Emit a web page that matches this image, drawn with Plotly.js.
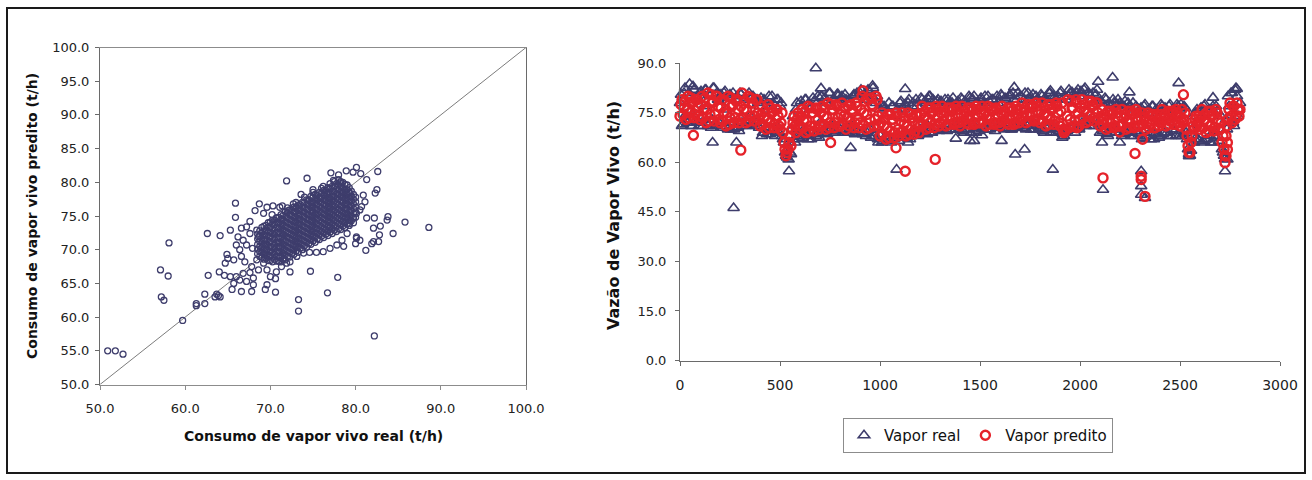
<!DOCTYPE html>
<html><head><meta charset="utf-8">
<script src="https://cdn.plot.ly/plotly-3.0.1.min.js"></script>
<style>html,body{margin:0;padding:0;background:#fff}#g{width:1312px;height:480px}</style>
</head><body><div id="g"></div><script>
// ---------- Left chart: consumo real x predito ----------
// dense core, read column by column (real value -> predicted values)
const nuvemX = [68.5,69.0,69.5,70.0,70.5,71.0,71.5,72.0,72.5,73.0,73.5,74.0,74.5,75.0,75.5,76.0,76.5,77.0,77.5,78.0,78.5,79.0,79.5,80.0];
const nuvemY = [
  [69.4,70.1,70.8,71.6,72.3],
  [68.9,69.6,70.3,71.0,71.7,72.5,73.3],
  [68.7,69.3,70.0,70.8,71.5,72.1,72.9,73.6],
  [68.4,69.1,69.8,70.5,71.2,72.0,72.6,73.4,74.1],
  [68.6,69.3,70.1,70.7,71.5,72.2,72.9,73.7,74.4],
  [68.3,69.0,69.7,70.4,71.1,71.8,72.6,73.2,74.0,74.8],
  [68.6,69.4,70.0,70.8,71.4,72.2,72.9,73.6,74.3,75.1],
  [69.0,69.7,70.4,71.1,71.9,72.5,73.3,74.0,74.7,75.5,76.2],
  [69.4,70.1,70.9,71.5,72.3,73.0,73.7,74.4,75.1,75.9],
  [69.8,70.5,71.2,71.9,72.7,73.4,74.1,74.8,75.6,76.3,77.0],
  [70.2,70.9,71.6,72.3,73.0,73.8,74.5,75.2,75.9,76.7],
  [70.6,71.3,72.0,72.7,73.4,74.1,74.9,75.6,76.3,77.0,77.8],
  [70.9,71.7,72.4,73.1,73.8,74.5,75.2,76.0,76.7,77.4],
  [71.3,72.0,72.7,73.5,74.2,74.9,75.6,76.3,77.0,77.8,78.5],
  [71.6,72.4,73.1,73.8,74.6,75.3,76.0,76.7,77.4,78.1],
  [72.0,72.7,73.4,74.1,74.8,75.5,76.2,77.0,77.7,78.4,79.1],
  [72.3,73.0,73.8,74.5,75.2,75.9,76.6,77.3,78.0,78.8],
  [72.6,73.3,74.0,74.8,75.5,76.2,76.9,77.6,78.4,79.1,79.8],
  [72.9,73.6,74.3,75.0,75.8,76.5,77.2,77.9,78.6,79.4,80.1],
  [73.1,73.9,74.6,75.3,76.0,76.7,77.5,78.2,78.9,79.6,80.4],
  [73.5,74.2,74.9,75.6,76.4,77.1,77.8,78.5,79.2,80.0],
  [73.8,74.6,75.3,76.0,76.7,77.4,78.1,78.9,79.6],
  [74.3,75.0,75.8,76.5,77.2,77.9,78.7],
  [74.8,75.6,76.3,77.1,77.8]
];
const nuvemX2 = [68.75,69.25,69.75,70.25,70.75,71.25,71.75,72.25,72.75,73.25,73.75,74.25,74.75,75.25,75.75,76.25,76.75,77.25,77.75,78.25,78.75,79.25,79.75];
const nuvemY2 = [
  [69.0,69.7,70.5,71.2,72.0,72.8],
  [68.6,69.3,70.0,70.7,71.4,72.1,72.8,73.5],
  [68.4,69.0,69.7,70.4,71.1,71.9,72.6,73.3,74.0],
  [68.2,68.9,69.6,70.3,71.0,71.7,72.4,73.1,73.8,74.4],
  [68.3,69.0,69.7,70.4,71.1,71.8,72.5,73.3,74.0,74.7],
  [68.2,68.9,69.6,70.3,71.0,71.7,72.4,73.1,73.8,74.5,75.2],
  [68.5,69.2,69.9,70.6,71.3,72.0,72.7,73.4,74.1,74.8,75.6],
  [68.9,69.6,70.3,71.0,71.7,72.4,73.1,73.8,74.5,75.2,75.9],
  [69.3,70.0,70.7,71.4,72.1,72.8,73.5,74.2,74.9,75.6,76.3],
  [69.6,70.3,71.0,71.7,72.4,73.1,73.8,74.5,75.2,75.9,76.6],
  [70.0,70.7,71.4,72.1,72.8,73.5,74.2,74.9,75.6,76.3,77.0],
  [70.4,71.1,71.8,72.5,73.2,73.9,74.6,75.3,76.0,76.7,77.4],
  [70.8,71.5,72.2,72.9,73.6,74.3,75.0,75.7,76.4,77.1,77.9],
  [71.1,71.8,72.5,73.2,73.9,74.6,75.3,76.0,76.7,77.4,78.2],
  [71.5,72.2,72.9,73.6,74.3,75.0,75.7,76.4,77.1,77.8,78.5],
  [71.8,72.5,73.2,73.9,74.6,75.3,76.0,76.7,77.4,78.1,78.8],
  [72.1,72.8,73.5,74.2,74.9,75.6,76.3,77.0,77.7,78.4,79.2],
  [72.4,73.1,73.8,74.5,75.2,75.9,76.6,77.3,78.0,78.7,79.4],
  [72.7,73.4,74.1,74.8,75.5,76.2,76.9,77.6,78.3,79.0,79.8],
  [73.0,73.7,74.4,75.1,75.8,76.5,77.2,77.9,78.6,79.3,80.1],
  [73.3,74.0,74.7,75.4,76.1,76.8,77.5,78.2,78.9,79.7],
  [73.6,74.3,75.0,75.7,76.4,77.1,77.8,78.5,79.2],
  [74.0,74.7,75.4,76.1,76.8,77.5,78.2]
];
// scattered points around the core
const dispersoReal = [
  65.9,65.9,68.7,68.2,69.6,70.3,71.1,71.4,72.1,72.7,
  73.6,74.5,69.2,70.2,70.7,67.6,67.2,66.6,66.2,66.8,
  67.6,68.4,68.6,66.0,66.4,67.2,67.9,64.9,65.0,64.7,
  65.7,66.6,67.0,67.8,68.4,69.2,69.6,68.6,67.6,66.8,
  66.0,65.3,62.7,64.0,64.6,66.4,67.2,68.0,65.7,65.5,
  66.6,67.8,68.0,69.6,69.4,70.6,70.6,70.0,70.7,71.3,
  72.3,71.9,63.7,63.9,63.5,64.1,62.3,62.3,61.3,61.3,
  62.6,64.1,65.3,59.7,58.1,57.1,58.0,57.2,57.5,50.9,
  51.8,52.7,71.9,74.3,73.3,73.3,74.7,76.7,77.9,82.2,
  88.6,85.8,84.4,83.8,83.7,82.6,80.1,77.1,78.0,78.9,
  79.7,80.6,81.3,81.2,82.7,82.8,82.9,82.1,81.9,82.1,
  81.3,82.2,82.5,82.3,80.9,81.1,80.7,80.1,80.5,79.7,
  79.3,80.0,80.1,79.0,78.4,78.6,77.8,77.0,76.2,75.4,
  74.6,73.9,73.1,72.3,71.5,78.6,79.3,76.6,75.8,75.0,
  76.2,78.2,77.4,80.5,80.1
];
const dispersoPredito = [
  76.9,74.8,76.8,75.8,76.3,76.5,76.3,76.5,75.8,76.8,
  78.2,77.4,75.4,75.2,74.7,74.2,73.4,73.2,71.9,71.4,
  72.4,72.9,71.9,70.7,70.0,70.7,70.2,69.3,68.7,68.0,
  68.5,69.0,68.2,67.5,68.5,68.0,67.0,67.0,66.6,66.5,
  66.0,66.0,66.2,66.7,66.2,65.5,65.3,65.8,65.0,64.1,
  63.8,63.8,64.8,64.8,64.1,63.7,65.7,66.0,66.7,67.5,
  66.7,68.0,63.4,63.2,63.0,63.0,63.4,62.0,62.0,61.7,
  72.4,72.1,72.9,59.5,71.0,67.0,66.1,63.0,62.5,55.0,
  55.0,54.5,80.2,80.6,62.6,60.9,66.8,63.6,65.9,57.2,
  73.3,74.1,72.4,74.9,74.4,81.6,82.2,81.4,81.1,81.7,
  81.5,81.3,80.4,69.9,71.2,72.2,73.5,71.2,70.9,73.2,
  74.7,74.7,78.9,78.4,78.1,77.1,76.4,75.4,75.9,74.7,
  73.9,70.9,71.7,72.4,71.4,70.5,70.7,70.2,69.7,69.6,
  69.6,69.5,69.0,68.2,68.5,77.9,78.4,78.4,77.6,78.9,
  79.4,79.9,80.3,71.4,71.9
];
const diagonal = [50, 100];

// ---------- Right chart: time series ----------
const amostra = [
  0,10,20,30,40,50,60,70,80,90,100,110,120,130,140,150,160,170,180,190,
  200,210,220,230,240,250,260,270,280,290,300,310,320,330,340,350,360,370,380,390,
  400,410,420,430,440,450,460,470,480,490,500,510,520,530,540,550,560,570,580,590,
  600,610,620,630,640,650,660,670,680,690,700,710,720,730,740,750,760,770,780,790,
  800,810,820,830,840,850,860,870,880,890,900,910,920,930,940,950,960,970,980,990,
  1000,1010,1020,1030,1040,1050,1060,1070,1080,1090,1100,1110,1120,1130,1140,1150,1160,1170,1180,1190,
  1200,1210,1220,1230,1240,1250,1260,1270,1280,1290,1300,1310,1320,1330,1340,1350,1360,1370,1380,1390,
  1400,1410,1420,1430,1440,1450,1460,1470,1480,1490,1500,1510,1520,1530,1540,1550,1560,1570,1580,1590,
  1600,1610,1620,1630,1640,1650,1660,1670,1680,1690,1700,1710,1720,1730,1740,1750,1760,1770,1780,1790,
  1800,1810,1820,1830,1840,1850,1860,1870,1880,1890,1900,1910,1920,1930,1940,1950,1960,1970,1980,1990,
  2000,2010,2020,2030,2040,2050,2060,2070,2080,2090,2100,2110,2120,2130,2140,2150,2160,2170,2180,2190,
  2200,2210,2220,2230,2240,2250,2260,2270,2280,2290,2300,2310,2320,2330,2340,2350,2360,2370,2380,2390,
  2400,2410,2420,2430,2440,2450,2460,2470,2480,2490,2500,2510,2520,2530,2540,2550,2560,2570,2580,2590,
  2600,2610,2620,2630,2640,2650,2660,2670,2680,2690,2700,2710,2720,2730,2740,2750,2760,2770,2780,2790,
  2800
];
const amostraB = [
  5,15,25,35,45,55,65,75,85,95,105,115,125,135,145,155,165,175,185,195,
  205,215,225,235,245,255,265,275,285,295,305,315,325,335,345,355,365,375,385,395,
  405,415,425,435,445,455,465,475,485,495,505,515,525,535,545,555,565,575,585,595,
  605,615,625,635,645,655,665,675,685,695,705,715,725,735,745,755,765,775,785,795,
  805,815,825,835,845,855,865,875,885,895,905,915,925,935,945,955,965,975,985,995,
  1005,1015,1025,1035,1045,1055,1065,1075,1085,1095,1105,1115,1125,1135,1145,1155,1165,1175,1185,1195,
  1205,1215,1225,1235,1245,1255,1265,1275,1285,1295,1305,1315,1325,1335,1345,1355,1365,1375,1385,1395,
  1405,1415,1425,1435,1445,1455,1465,1475,1485,1495,1505,1515,1525,1535,1545,1555,1565,1575,1585,1595,
  1605,1615,1625,1635,1645,1655,1665,1675,1685,1695,1705,1715,1725,1735,1745,1755,1765,1775,1785,1795,
  1805,1815,1825,1835,1845,1855,1865,1875,1885,1895,1905,1915,1925,1935,1945,1955,1965,1975,1985,1995,
  2005,2015,2025,2035,2045,2055,2065,2075,2085,2095,2105,2115,2125,2135,2145,2155,2165,2175,2185,2195,
  2205,2215,2225,2235,2245,2255,2265,2275,2285,2295,2305,2315,2325,2335,2345,2355,2365,2375,2385,2395,
  2405,2415,2425,2435,2445,2455,2465,2475,2485,2495,2505,2515,2525,2535,2545,2555,2565,2575,2585,2595,
  2605,2615,2625,2635,2645,2655,2665,2675,2685,2695,2705,2715,2725,2735,2745,2755,2765,2775,2785,2795
];
const vaporReal = [
  78,71,81,74.5,72,80,71,82,76,72.5,   81,72,77,82,71,80,73,82.5,71,79,
  80,71,81,76,70,80.5,72,70,79,70.5,   81,72,79,71,80,74,71.5,79,72,78,
  77,68,79,70,76,68.5,80,72,69,79,     77,68,66,62,64,63,70,67,76,68,
  68,77,70,79,67,76,69,78.5,68,80,     72,80,69,78,70,81,71,79,69.5,80,
  70,80,72,79,69,78,71,80.5,70,79,     81,69,79,68,82,70,80,68,78,67,
  76,66,77,68,75,66.5,77,67,74,68,     78,68,76,69,78,67,77,69,79,68,
  70,79,69,78,71,80,69,78.5,70,79,     78,70,77,71,79,70,78,72,70,78.5,
  71,79,69,78,70,79.5,72,80,69,78,     79,70,78,71,80,70,79,72,70.5,78,
  71,80,70,79,72,80.5,70,79,71,81,     80,71,79,70,81,72,79,70,80,71,
  70,80,69,79,71,81,70,79.5,69,80,     81,69,68,79,70,81,71,80,70,82,
  80,72,82,71,81,73,79,71,80.5,72,     69,78,70,79,68,77,70,78,69,79,
  78,68,77,69,78,70,76,68,77,69,       76,67,77,68,75,69,77,67,76,68,
  68,77,69,76,68,77.5,70,76,68,77,     76,68,77,69,64,62,70,66,75,67,
  76,66,77,67,75,68,76,66,77,68,       70,64,62,73,80,72,81,71,82.5,74,
  78
];
const vaporRealB = [
  80.5,71.5,82.5,72,81,71,83,72.5,80,71,          81.5,71,82,72,80.5,70.5,82.5,71.5,81,72,
  80.5,70.5,81.5,71,79.5,70,81,70.5,80,69.5,      80.5,71,79.5,72,81,71.5,80,71,79,70.5,
  79.5,69,78.5,68.5,80,69.5,78,68,79,69,          78,67,63,61.5,66,62.5,74,66,78,67,
  78.5,67.5,79,68,78,67,79.5,68.5,78,67.5,        80,69.5,79.5,68.5,81,70,79,69,80.5,69.5,
  79.5,69,80.5,70,79,69.5,80,68.5,81,69,          82,68.5,80.5,69,81.5,67.5,82.5,68,80,68.5,
  77.5,66.5,76.5,67,78,66,77,67.5,76,66.5,        78.5,68.5,77.5,67.5,79,68,78,69,77,68.5,
  79.5,69.5,78.5,68.5,80,69,79,70,78.5,69.5,      78.5,70.5,79,69.5,78,70,79.5,71,77.5,70,
  79.5,69.5,78.5,70,80,69,79,70.5,78,69.5,        79.5,70.5,80,70,78.5,71,79,69.5,80,70.5,
  80.5,70.5,79.5,71,80,70,81,70.5,79,71,          80,70.5,81,71,79.5,70,80.5,71.5,79,70.5,
  80.5,69.5,79.5,70,81,69,80,70.5,79,69.5,        81.5,68.5,80,69.5,82,70,80.5,69,81,70.5,
  81.5,71.5,82.5,72,80.5,71,81,72.5,82,71.5,      78.5,69.5,79.5,68.5,78,69,79,70,77.5,69,
  77.5,68.5,78.5,69,77,68,78,69.5,76.5,68.5,      76.5,67.5,77.5,68,76,67,77,68.5,75.5,67.5,
  77.5,68.5,76.5,69,77,68,76,69.5,77.5,68,        77.5,68.5,76.5,67,62.5,63.5,74,67,76,66.5,
  76.5,66.5,77.5,67,76,66,77,67.5,75.5,66.5,      74,63,61,70,77,81,72,82,80,76
];
const vaporPredito = [
  74,79,76.5,73,80,75,78,73.5,79,77,        73,80,76,72,81,74.5,78,72.5,80,77,
  72,79,75,71,80,73.5,77,72,78.5,76,        73,81,76,72,80,74,78,72.5,79,75,
  71,77,73.5,70,77.5,72,75,70.5,76,74,      70,75,66,62,64,68,70,74,69,75,
  70,76,72.5,69,77,71,75,69.5,76.5,73,      71,77,74,70,78,72,76,70.5,77.5,73.5,
  71,78,74,70,77,72.5,76,70.5,78,73,        72,80,75,70,79,73,77.5,71,80,74,
  68,75,71,67,74.5,69.5,73,67.5,75,70,      69,75,71.5,68,75,70,73.5,68.5,74.5,72,
  71,77,73.5,70,76.5,72,75,70.5,77,74,      72,77,74,71,76.5,73,75.5,71.5,77,74.5,
  71,77,74,72,76.5,73,75.5,71.5,77,74,      72,77,74.5,71,77,73,75.5,71.5,76.5,74,
  71,77,74,72,76.5,73,75.5,71.5,77,74.5,    73,78,75,72,77.5,74,76.5,72.5,78,75.5,
  72,78,74.5,71,77.5,73,76,71.5,78,75,      71,78,69,70,79,73,76.5,71,79,75,
  73,79,75.5,72,78.5,74,77,72.5,78,75,      71,76,73,70,75.5,72,74.5,70.5,76,73.5,
  71,76,73.5,70,75.5,72,74.5,70.5,76,73,    71,75,72.5,70,75,71.5,74,70.5,74.5,73,
  72,76,73.5,71,75.5,72.5,74.5,71.5,76,74,  71,76,73,70,65,63,68,70,74,72,
  70,76,72.5,69,75.5,71,74,69.5,76,73,      70,66,64,68,73,78,72,77,74,76,
  76
];
const vaporPreditoB = [
  77.5,74.5,78.5,76,73.5,79.5,78.5,74.5,79,74,    77.5,73.5,79.5,76,72.5,80.5,78.5,74.5,80,73,
  76.5,72.5,78.5,75,71.5,79.5,77.5,73.5,79,72,    77,73.5,78.5,75.5,72.5,79.5,78,74,79,73,
  74.5,71.5,75.5,73,70.5,76.5,75.5,71.5,76,71,    72,69,64,63,66,65,72,71,73,71,
  74,70.5,75.5,72.5,69.5,76.5,75,71,76,70,        75,71.5,76.5,73.5,70.5,77.5,76,72,77,71,
  74.5,71.5,76.5,73.5,71,77.5,75.5,72,77,70.5,    76,71.5,78.5,74.5,70.5,79.5,77,73,79,71,
  72,68.5,73.5,70.5,67.5,74.5,73,69,74,68,        72.5,69.5,73.5,71,68.5,74.5,73.5,69.5,74,69,
  74.5,71.5,75.5,73,70.5,76.5,75.5,71.5,76,71,    75,72.5,75.5,73.5,71.5,76.5,76,72,76,72,
  74.5,72.5,75.5,73.5,71.5,76.5,76,72,76,72,      75,72.5,75.5,74,71.5,76.5,76,72,76,72,
  75,72.5,75.5,73.5,71.5,76.5,76,72,76,72,        76,73.5,76.5,74.5,72.5,77.5,77,73,77,73,
  75.5,72.5,76.5,74,71.5,77.5,76.5,72.5,77,72,    75.5,70,69.5,74,70.5,78.5,76.5,72.5,78,71,
  76.5,73.5,77.5,75,72.5,78.5,77.5,73.5,78,73,    74,71.5,74.5,72.5,70.5,75.5,75,71,75,71,
  74,71.5,74.5,72.5,70.5,75.5,75,71,75,71,        73.5,71.5,73.5,72,70.5,74.5,74.5,70.5,74,71,
  74.5,72.5,74.5,73,71.5,75.5,75.5,71.5,75,72,    73,72,75,68,63,66,71,73,71,74,
  73.5,70.5,74.5,72,69.5,75.5,74.5,70.5,75,70,    72,68,62,71,76,74,77,73,78,74
];
// isolated points of each series
const realIsoladoX = [48,268,163,282,679,705,789,545,543,853,963,992,1083,1126,1140,1243,1379,1451,1470,1510,1608,1671,1676,1723,1864,2091,2163,2115,2110,2199,2247,2306,2306,2306,2325,2493,2545,2725,2737,2784,2665,1852,1960,1912,1996];
const realIsoladoY = [83.7,46.2,66,66,88.5,82.4,80.7,57.3,60.9,64.4,83.2,66,57.8,82.2,66,79,67.2,66.5,66.5,68.2,66.5,82.7,62.4,63.9,57.8,84.4,85.7,51.7,66,66,81.2,57.3,52.8,50.2,49.2,84,61.9,57.3,60.9,82.2,79.6,81.7,81.2,67.5,70];
const preditoIsoladoX = [67,304,753,915,1080,1126,1276,2115,2199,2275,2306,2306,2325,2517,2725,2730,2737,2737,2313,1984];
const preditoIsoladoY = [68.2,63.7,66,81.7,64.4,57.3,60.9,55.3,69.2,62.7,54.8,55.8,49.7,80.5,59.9,61.9,63.9,66,67,70.5];

// ---------- build ----------
const leftX = [], leftY = [];
nuvemX.forEach((x, i) => nuvemY[i].forEach(y => { leftX.push(x); leftY.push(y); }));
nuvemX2.forEach((x, i) => nuvemY2[i].forEach(y => { leftX.push(x); leftY.push(y); }));
dispersoReal.forEach((x, i) => { leftX.push(x); leftY.push(dispersoPredito[i]); });

const W = 1312, H = 480;
const fx = p => p / W, fy = p => 1 - p / H;
const navy = '#3e3d6c', red = '#e5222a';
const tickF = s => ({family: 'DejaVu Sans, Arial, sans-serif', size: s, color: '#222'});
const titleF = s => ({family: 'DejaVu Sans, Arial, sans-serif', size: s, color: '#111', weight: 'bold'});

const traces = [
  {x: diagonal, y: diagonal, xaxis: 'x', yaxis: 'y', mode: 'lines',
   line: {color: '#5a5a5a', width: 0.8}, showlegend: false, hoverinfo: 'skip'},
  {x: leftX, y: leftY, xaxis: 'x', yaxis: 'y', mode: 'markers', showlegend: false,
   marker: {symbol: 'circle-open', size: 6, color: navy, line: {width: 1.3}}},
  {x: amostra.concat(amostraB, realIsoladoX), y: vaporReal.concat(vaporRealB, realIsoladoY),
   xaxis: 'x2', yaxis: 'y2', mode: 'markers', name: 'Vapor real', cliponaxis: false,
   marker: {symbol: 'triangle-up-open', size: 10, color: navy, line: {width: 1.6}}},
  {x: amostra.concat(amostraB, preditoIsoladoX), y: vaporPredito.concat(vaporPreditoB, preditoIsoladoY),
   xaxis: 'x2', yaxis: 'y2', mode: 'markers', name: 'Vapor predito', cliponaxis: false,
   marker: {symbol: 'circle-open', size: 9, color: red, line: {width: 2.4}}}
];

const common = {showgrid: false, zeroline: false, showline: true, ticks: 'outside',
  ticklen: 4, tickwidth: 1, automargin: false, fixedrange: true};

const layout = {
  width: W, height: H, margin: {l: 0, r: 0, t: 0, b: 0},
  paper_bgcolor: '#fff', plot_bgcolor: '#fff',
  xaxis: Object.assign({}, common, {domain: [fx(100), fx(526)], range: [50, 100], anchor: 'y',
    tick0: 50, dtick: 10, tickformat: '.1f', mirror: true, linecolor: '#8c8c8c', tickcolor: '#8c8c8c',
    tickfont: tickF(13), ticklabelstandoff: 8}),
  yaxis: Object.assign({}, common, {domain: [fy(384.5), fy(47.5)], range: [50, 100], anchor: 'x',
    tick0: 50, dtick: 5, tickformat: '.1f', mirror: true, linecolor: '#6a6a6a', tickcolor: '#6a6a6a',
    tickfont: tickF(13), ticklabelstandoff: 3}),
  xaxis2: Object.assign({}, common, {domain: [fx(680), fx(1280)], range: [0, 3000], anchor: 'y2',
    tick0: 0, dtick: 500, linecolor: '#6a6a6a', tickcolor: '#6a6a6a',
    tickfont: tickF(14), ticklabelstandoff: 8}),
  yaxis2: Object.assign({}, common, {domain: [fy(360.5), fy(63.3)], range: [0, 90], anchor: 'x2',
    tick0: 0, dtick: 15, tickformat: '.1f', linecolor: '#6a6a6a', tickcolor: '#6a6a6a',
    tickfont: tickF(13), ticklabelstandoff: 6}),
  showlegend: true,
  legend: {orientation: 'h', x: fx(978), xanchor: 'center', y: fy(418), yanchor: 'top',
    bordercolor: '#8c8c8c', borderwidth: 1, bgcolor: '#fff', itemwidth: 30,
    font: {family: 'DejaVu Sans, Arial, sans-serif', size: 15, color: '#111'}},
  annotations: [
    {text: 'Consumo de vapor vivo predito (t/h)', xref: 'paper', yref: 'paper', x: fx(32), y: fy(216),
     textangle: -90, showarrow: false, xanchor: 'center', yanchor: 'middle', font: titleF(14)},
    {text: 'Consumo de vapor vivo real (t/h)', xref: 'paper', yref: 'paper', x: fx(313), y: fy(436),
     showarrow: false, xanchor: 'center', yanchor: 'middle', font: titleF(14)},
    {text: 'Vazão de Vapor Vivo (t/h)', xref: 'paper', yref: 'paper', x: fx(614), y: fy(216),
     textangle: -90, showarrow: false, xanchor: 'center', yanchor: 'middle', font: titleF(16)}
  ],
  shapes: [
    {type: 'rect', xref: 'paper', yref: 'paper', x0: fx(7), x1: fx(1305), y0: fy(473), y1: fy(8),
     line: {color: '#1a1a1a', width: 2}, fillcolor: 'rgba(0,0,0,0)'}
  ]
};

Plotly.newPlot('g', traces, layout, {displayModeBar: false, staticPlot: true});
</script></body></html>
